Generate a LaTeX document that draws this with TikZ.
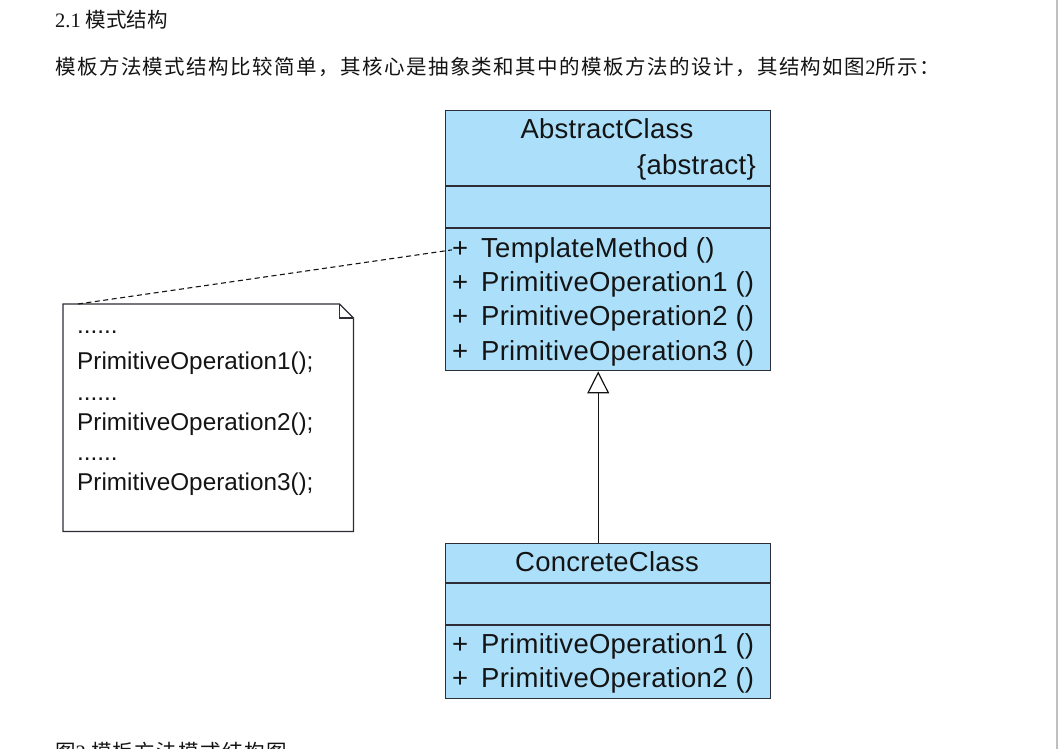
\documentclass[tikz,border=0pt]{standalone}
\usepackage{fontspec}
\setmainfont{Liberation Sans}
\newfontfamily\umlfont[LetterSpace=1]{Liberation Sans}
\newfontfamily\cjk{Noto Sans CJK SC}
\newfontfamily\cjkwide[LetterSpace=7]{Noto Sans CJK SC}
\newfontfamily\timesfont{Liberation Serif}
\usepackage{tikz}
\usetikzlibrary{arrows.meta}
\definecolor{classfill}{RGB}{172,224,250}
\definecolor{classline}{RGB}{45,45,55}
\definecolor{textcol}{RGB}{20,20,20}
\tikzset{
    classbox/.style={draw=classline, line width=1.4pt, fill=classfill, minimum width=325pt, inner sep=0pt, anchor=north west},
    classtxt/.style={font=\umlfont\fontsize{27.5}{32}\selectfont, text=textcol, inner sep=0pt},
    notetxt/.style={font=\fontsize{24.3}{28}\selectfont, text=textcol, inner sep=0pt, anchor=base west},
    pagetxt/.style={font=\fontsize{20.5}{24}\selectfont, text=textcol, inner sep=0pt, anchor=base west},
}

\begin{document}
\begin{tikzpicture}[x=1pt, y=-1pt]
    \clip (0,0) rectangle (1058,749);
    \fill[white] (0,0) rectangle (1058,749);

    % draw page text
    \node[pagetxt] (heading) at (55,28) {\timesfont 2.1 \cjk 模式结构};
    \node[pagetxt] (intro) at (55,75) {\cjkwide 模板方法模式结构比较简单，其核心是抽象类和其中的模板方法的设计，其结构如图\timesfont 2\cjkwide 所示：};
    \node[pagetxt] (caption) at (55,759) {\cjkwide 图\timesfont 2 \cjkwide 模板方法模式结构图};

    % right page edge
    \fill[gray!50] (1055.5,0) rectangle (1058,749);

    % draw class boxes
    \node[classbox, minimum height=260pt] (abstract) at (445,110) {};
    \node[classbox, minimum height=155pt] (concrete) at (445,543) {};

    % draw compartment lines
    \foreach \y in {76,118}
        \draw[classline, line width=1.4pt] ([yshift=-\y pt]abstract.north west) -- ([yshift=-\y pt]abstract.north east);
    \foreach \y in {40,82}
        \draw[classline, line width=1.4pt] ([yshift=-\y pt]concrete.north west) -- ([yshift=-\y pt]concrete.north east);

    % draw class names
    \node[classtxt, anchor=base] (aname) at (607,139) {AbstractClass};
    \node[classtxt, anchor=base east] (astereo) at (756,175) {\{abstract\}};
    \node[classtxt, anchor=base] (cname) at (607,571) {ConcreteClass};

    % draw operations
    \foreach \t/\y [count=\i] in {TemplateMethod/257, PrimitiveOperation1/291, PrimitiveOperation2/325, PrimitiveOperation3/360}
        \node[classtxt, anchor=base west] (aop\i) at (452,\y) {\makebox[29pt][l]{+}\t\ ()};
    \foreach \t/\y [count=\i] in {PrimitiveOperation1/653, PrimitiveOperation2/687}
        \node[classtxt, anchor=base west] (cop\i) at (452,\y) {\makebox[29pt][l]{+}\t\ ()};

    % draw note with folded corner
    \node[minimum width=290pt, minimum height=227pt, inner sep=0pt, anchor=north west] (note) at (63,304) {};
    \draw[classline, line width=1.2pt, fill=white] (note.north west) -- ([xshift=-14pt]note.north east) -- ([yshift=-14pt]note.north east) -- (note.south east) -- (note.south west) -- cycle;
    \draw[classline, line width=1.2pt] ([xshift=-14pt]note.north east) -- ([xshift=-14pt, yshift=-14pt]note.north east) -- ([yshift=-14pt]note.north east);

    % draw note text
    \node[notetxt] (dots1) at (77,333) {......};
    \node[notetxt] (call1) at (77,369) {PrimitiveOperation1();};
    \node[notetxt] (dots2) at (77,400) {......};
    \node[notetxt] (call2) at (77,430) {PrimitiveOperation2();};
    \node[notetxt] (dots3) at (77,460) {......};
    \node[notetxt] (call3) at (77,490) {PrimitiveOperation3();};

    % draw note link
    \draw[textcol, line width=1.1pt, dash pattern=on 5pt off 3.5pt] ([xshift=15pt]note.north west) -- (aop1.west);

    % draw generalization
    \draw[textcol, line width=1.4pt, -{Triangle[open, width=22pt, length=22pt, line width=1.2pt]}] ([xshift=-10pt]concrete.north) -- ([xshift=-10pt]abstract.south);
\end{tikzpicture}
\end{document}
